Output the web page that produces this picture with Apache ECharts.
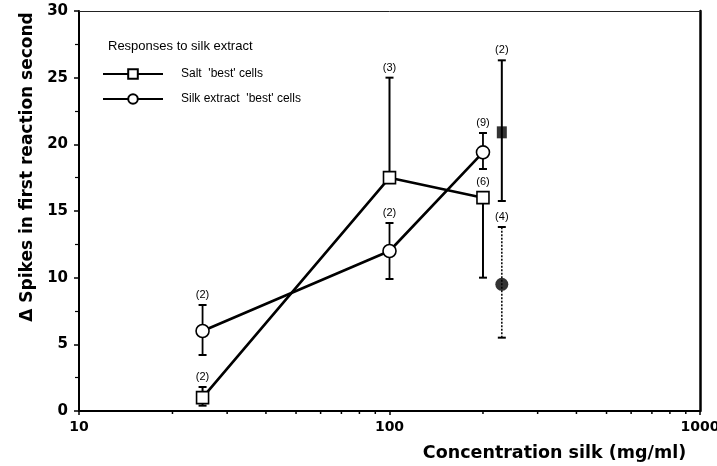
<!DOCTYPE html>
<html>
<head>
<meta charset="utf-8">
<script src="https://cdn.jsdelivr.net/npm/echarts@6/dist/echarts.min.js"></script>
<style>html,body{margin:0;padding:0;background:#fff;}#c{width:717px;height:466px;}</style>
</head>
<body>
<div id="c"></div>
<script>
// ---- data ----
const saltX = [25, 100, 200];
const saltY = [1.0, 17.5, 16.0];
const saltLow = [0.4, 17.5, 10.0];
const saltHigh = [1.8, 25.0, 16.0];
const saltN = [2, 3, 6];

const silkX = [25, 100, 200];
const silkY = [6.0, 12.0, 19.4];
const silkLow = [4.2, 9.9, 18.15];
const silkHigh = [7.95, 14.1, 20.85];
const silkN = [2, 2, 9];

const filledSqX = [230];
const filledSqY = [20.9];
const filledSqLow = [15.75];
const filledSqHigh = [26.3];
const filledSqN = [2];

const filledCircX = [230];
const filledCircY = [9.5];
const filledCircLow = [5.5];
const filledCircHigh = [13.8];
const filledCircN = [4];

const xMinorTicks = [20, 30, 40, 50, 60, 70, 80, 90, 200, 300, 400, 500, 600, 700, 800, 900];
const yTicks = { min: 0, max: 30, interval: 5 };
const xTicks = { min: 10, max: 1000 };

const seriesNames = ["Salt  'best' cells", "Silk extract  'best' cells"];
const legendTitle = 'Responses to silk extract';
const xName = 'Concentration silk (mg/ml)';
const yName = '\u0394 Spikes in first reaction second';

function pairs(xs, ys) { return xs.map((x, i) => [x, ys[i]]); }
function errData(xs, lo, hi, ys, ns) { return xs.map((x, i) => [x, lo[i], hi[i], ys[i], ns[i]]); }

function errRender(dashed, lw) {
  return function (params, api) {
    const x = api.value(0), lo = api.value(1), hi = api.value(2), y = api.value(3), n = api.value(4);
    const pLo = api.coord([x, lo]);
    const pHi = api.coord([x, hi]);
    const pY = api.coord([x, y]);
    const cap = 4;
    const style = { stroke: '#000', lineWidth: lw, lineDash: dashed ? [2, 1.5] : null };
    const anchor = Math.min(pHi[1], pY[1] - 6) - 10;
    return {
      type: 'group',
      children: [
        { type: 'line', shape: { x1: pLo[0], y1: pLo[1], x2: pHi[0], y2: pHi[1] }, style: style },
        { type: 'line', shape: { x1: pLo[0] - cap, y1: pLo[1], x2: pLo[0] + cap, y2: pLo[1] }, style: { stroke: '#000', lineWidth: 2 } },
        { type: 'line', shape: { x1: pHi[0] - cap, y1: pHi[1], x2: pHi[0] + cap, y2: pHi[1] }, style: { stroke: '#000', lineWidth: 2 } },
        { type: 'text', style: { text: '(' + n + ')', x: pY[0], y: anchor, align: 'center', verticalAlign: 'middle', fontSize: 11, fontFamily: 'Liberation Sans', fill: '#000' } }
      ]
    };
  };
}

const chart = echarts.init(document.getElementById('c'), null, { renderer: 'canvas' });
const boldFont = 'DejaVu Sans';

chart.setOption({
  backgroundColor: '#fff',
  animation: false,
  title: {
    text: legendTitle, left: 108, top: 40, padding: 0,
    textStyle: { fontSize: 13, fontWeight: 'normal', fontFamily: 'Liberation Sans', color: '#000' }
  },
  legend: {
    data: seriesNames, orient: 'vertical', left: 102, top: 68, padding: 0,
    itemWidth: 60, itemHeight: 12, itemGap: 13,
    textStyle: { fontSize: 12, fontFamily: 'Liberation Sans', color: '#000', padding: [0, 0, 0, 13] }
  },
  grid: { left: 79, right: 17, top: 11, bottom: 55, outerBoundsMode: 'none', containLabel: false },
  xAxis: [{
    type: 'log', logBase: 10, min: xTicks.min, max: xTicks.max,
    name: xName, nameLocation: 'middle', nameGap: 33,
    nameTextStyle: { fontSize: 17.5, fontWeight: 'bold', fontFamily: boldFont, color: '#000', padding: [0, 0, 0, 330] },
    axisLine: { show: true, lineStyle: { color: '#000', width: 2 } },
    axisTick: { show: true, length: 4, lineStyle: { color: '#000', width: 1.5 } },
    axisLabel: { margin: 9, fontSize: 14, fontWeight: 'bold', fontFamily: boldFont, color: '#000', formatter: v => String(Math.round(v)) },
    splitLine: { show: false }, minorTick: { show: false }
  }, {
    type: 'log', logBase: 10, min: xTicks.min, max: xTicks.max, position: 'top',
    axisLine: { show: true, onZero: false, lineStyle: { color: '#222', width: 1 } },
    axisTick: { show: false }, axisLabel: { show: false }, splitLine: { show: false }
  }],
  yAxis: [{
    type: 'value', min: yTicks.min, max: yTicks.max, interval: yTicks.interval,
    name: yName, nameLocation: 'middle', nameGap: 27,
    nameTextStyle: { fontSize: 17, fontWeight: 'bold', fontFamily: boldFont, color: '#000', padding: [0, 0, 0, 88] },
    axisLine: { show: true, lineStyle: { color: '#000', width: 2 } },
    axisTick: { show: true, length: 5, lineStyle: { color: '#000', width: 1.5 } },
    minorTick: { show: true, splitNumber: 2, length: 4, lineStyle: { color: '#000', width: 1.2 } },
    axisLabel: { margin: 11, fontSize: 15, fontWeight: 'bold', fontFamily: boldFont, color: '#000' },
    splitLine: { show: false }
  }, {
    type: 'value', min: yTicks.min, max: yTicks.max, position: 'right',
    axisLine: { show: true, onZero: false, lineStyle: { color: '#000', width: 2.5 } },
    axisTick: { show: false }, axisLabel: { show: false }, splitLine: { show: false }
  }],
  series: [
    {
      name: 'xMinor', type: 'custom', clip: false, silent: true, z: 1,
      data: xMinorTicks.map(v => [v, 0]),
      renderItem: function (params, api) {
        const p = api.coord([api.value(0), 0]);
        return { type: 'line', shape: { x1: p[0], y1: p[1], x2: p[0], y2: p[1] + 3 }, style: { stroke: '#000', lineWidth: 1.5 } };
      }
    },
    { name: 'saltErr', type: 'custom', z: 2, clip: false, encode: { x: 0, y: [1, 2] }, data: errData(saltX, saltLow, saltHigh, saltY, saltN), renderItem: errRender(false, 2) },
    { name: 'silkErr', type: 'custom', z: 2, clip: false, encode: { x: 0, y: [1, 2] }, data: errData(silkX, silkLow, silkHigh, silkY, silkN), renderItem: errRender(false, 1.8) },
    { name: 'fsqErr', type: 'custom', z: 2, clip: false, encode: { x: 0, y: [1, 2] }, data: errData(filledSqX, filledSqLow, filledSqHigh, filledSqY, filledSqN), renderItem: errRender(false, 2) },
    { name: 'fcErr', type: 'custom', z: 2, clip: false, encode: { x: 0, y: [1, 2] }, data: errData(filledCircX, filledCircLow, filledCircHigh, filledCircY, filledCircN), renderItem: errRender(true, 1.5) },
    {
      name: seriesNames[0], type: 'line', z: 5, data: pairs(saltX, saltY),
      symbol: 'rect', symbolSize: 12, showAllSymbol: true,
      lineStyle: { color: '#000', width: 2.6 },
      itemStyle: { color: '#fff', borderColor: '#000', borderWidth: 1.6 }
    },
    {
      name: seriesNames[1], type: 'line', z: 5, data: pairs(silkX, silkY),
      symbol: 'circle', symbolSize: 13, showAllSymbol: true,
      lineStyle: { color: '#000', width: 2.6 },
      itemStyle: { color: '#fff', borderColor: '#000', borderWidth: 1.6 }
    },
    {
      name: 'filledSquare', type: 'scatter', z: 5, data: pairs(filledSqX, filledSqY),
      symbol: 'rect', symbolSize: [10, 12], itemStyle: { color: '#000' }
    },
    {
      name: 'filledCircle', type: 'scatter', z: 5, data: pairs(filledCircX, filledCircY),
      symbol: 'circle', symbolSize: 13, itemStyle: { color: '#000' }
    }
  ]
});
</script>
</body>
</html>
